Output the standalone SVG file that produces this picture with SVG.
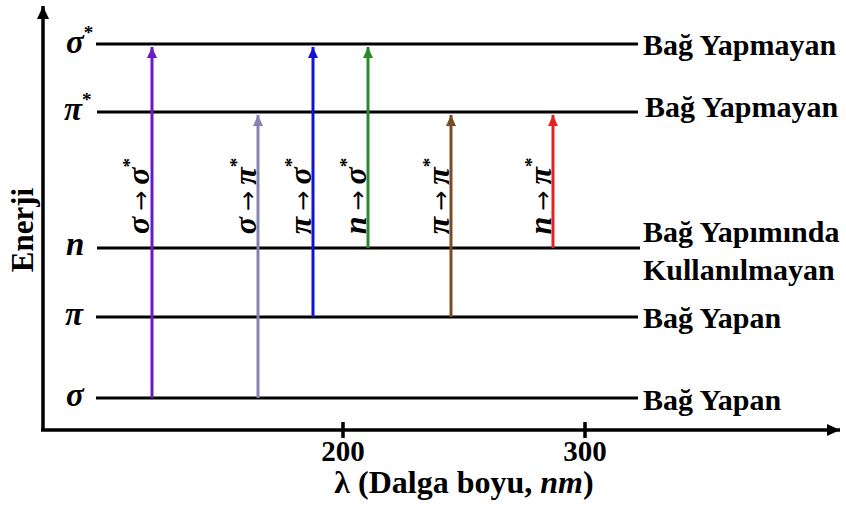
<svg xmlns="http://www.w3.org/2000/svg" width="846" height="510" viewBox="0 0 846 510">
<style>
.lvl{stroke:#000;stroke-width:3;fill:none}
.ax{stroke:#000;stroke-width:3.5;fill:none}
.t{font-family:'Liberation Serif','DejaVu Serif',serif;font-weight:700;fill:#000}
.lab{font-size:30px}
.g{font-style:italic;font-size:33px}
.tr{font-size:32px}
.gi{font-style:italic}
.ar{font-family:'DejaVu Sans',sans-serif;font-weight:400;font-style:normal;font-size:24px}
.sup{font-size:19px;font-style:normal}
.arr{stroke-width:3;fill:none}
</style>
<defs>
<marker id="axh" markerUnits="userSpaceOnUse" markerWidth="14" markerHeight="12" refX="13" refY="6" orient="auto"><path d="M0,0 L13,6 L0,12 z" fill="#000"/></marker>
<marker id="hPur" markerUnits="userSpaceOnUse" markerWidth="11" markerHeight="10" refX="11" refY="5" orient="auto"><path d="M0,0 L11,5 L0,10 z" fill="#6a1bc4"/></marker>
<marker id="hGry" markerUnits="userSpaceOnUse" markerWidth="11" markerHeight="10" refX="11" refY="5" orient="auto"><path d="M0,0 L11,5 L0,10 z" fill="#8583b4"/></marker>
<marker id="hBlu" markerUnits="userSpaceOnUse" markerWidth="11" markerHeight="10" refX="11" refY="5" orient="auto"><path d="M0,0 L11,5 L0,10 z" fill="#1414d0"/></marker>
<marker id="hGrn" markerUnits="userSpaceOnUse" markerWidth="11" markerHeight="10" refX="11" refY="5" orient="auto"><path d="M0,0 L11,5 L0,10 z" fill="#2b8a2b"/></marker>
<marker id="hBrn" markerUnits="userSpaceOnUse" markerWidth="11" markerHeight="10" refX="11" refY="5" orient="auto"><path d="M0,0 L11,5 L0,10 z" fill="#7a4c24"/></marker>
<marker id="hRed" markerUnits="userSpaceOnUse" markerWidth="11" markerHeight="10" refX="11" refY="5" orient="auto"><path d="M0,0 L11,5 L0,10 z" fill="#e42222"/></marker>
</defs>
<rect width="846" height="510" fill="#fff"/>

<g id="axes">
<line class="ax" x1="43" y1="431" x2="43" y2="6" marker-end="url(#axh)"/>
<line class="ax" x1="41" y1="430" x2="840" y2="430" marker-end="url(#axh)"/>
<line class="ax" x1="343" y1="422" x2="343" y2="438"/>
<line class="ax" x1="585" y1="422" x2="585" y2="438"/>
<text class="t" x="343" y="461" font-size="29" text-anchor="middle">200</text>
<text class="t" x="585" y="461" font-size="29" text-anchor="middle">300</text>
<text class="t" x="464" y="493" font-size="32" text-anchor="middle">λ (Dalga boyu, <tspan font-style="italic">nm</tspan>)</text>
<text class="t" transform="translate(33,230) rotate(-90)" font-size="31" text-anchor="middle">Enerji</text>
</g>

<g id="level-sigma-star">
<line class="lvl" x1="96" y1="44" x2="638" y2="44"/>
<text class="t g" x="66" y="53">σ<tspan class="sup" dy="-14">*</tspan></text>
<text class="t lab" x="643" y="55">Bağ Yapmayan</text>
</g>
<g id="level-pi-star">
<line class="lvl" x1="97" y1="112" x2="638" y2="112"/>
<text class="t g" x="64" y="120">π<tspan class="sup" dy="-14">*</tspan></text>
<text class="t lab" x="645" y="117">Bağ Yapmayan</text>
</g>
<g id="level-n">
<line class="lvl" x1="97" y1="248" x2="640" y2="248"/>
<text class="t g" x="66" y="255">n</text>
<text class="t lab" x="643" y="242">Bağ Yapımında</text>
<text class="t lab" x="643" y="280">Kullanılmayan</text>
</g>
<g id="level-pi">
<line class="lvl" x1="96" y1="317" x2="638" y2="317"/>
<text class="t g" x="65" y="325">π</text>
<text class="t lab" x="643" y="328">Bağ Yapan</text>
</g>
<g id="level-sigma">
<line class="lvl" x1="96" y1="398" x2="638" y2="398"/>
<text class="t g" x="66" y="406">σ</text>
<text class="t lab" x="643" y="410">Bağ Yapan</text>
</g>

<g id="connectors">
<line class="arr" stroke="#6a1bc4" x1="152" y1="398" x2="152" y2="47" marker-end="url(#hPur)"/>
<line class="arr" stroke="#8583b4" x1="258" y1="398" x2="258" y2="115" marker-end="url(#hGry)"/>
<line class="arr" stroke="#1414d0" x1="313" y1="317" x2="313" y2="47" marker-end="url(#hBlu)"/>
<line class="arr" stroke="#2b8a2b" x1="368" y1="248" x2="368" y2="47" marker-end="url(#hGrn)"/>
<line class="arr" stroke="#7a4c24" x1="451" y1="317" x2="451" y2="115" marker-end="url(#hBrn)"/>
<line class="arr" stroke="#e42222" x1="553" y1="248" x2="553" y2="115" marker-end="url(#hRed)"/>
</g>

<g id="transition-labels">
<text class="t tr" transform="translate(149,196) rotate(-90)" text-anchor="middle"><tspan class="gi">σ</tspan><tspan class="ar" dx="6">→</tspan><tspan class="gi" dx="6">σ</tspan><tspan class="sup" dy="-13">*</tspan></text>
<text class="t tr" transform="translate(256,196) rotate(-90)" text-anchor="middle"><tspan class="gi">σ</tspan><tspan class="ar" dx="6">→</tspan><tspan class="gi" dx="6">π</tspan><tspan class="sup" dy="-13">*</tspan></text>
<text class="t tr" transform="translate(311,196) rotate(-90)" text-anchor="middle"><tspan class="gi">π</tspan><tspan class="ar" dx="6">→</tspan><tspan class="gi" dx="6">σ</tspan><tspan class="sup" dy="-13">*</tspan></text>
<text class="t tr" transform="translate(366,196) rotate(-90)" text-anchor="middle"><tspan class="gi">n</tspan><tspan class="ar" dx="6">→</tspan><tspan class="gi" dx="6">σ</tspan><tspan class="sup" dy="-13">*</tspan></text>
<text class="t tr" transform="translate(449,196) rotate(-90)" text-anchor="middle"><tspan class="gi">π</tspan><tspan class="ar" dx="6">→</tspan><tspan class="gi" dx="6">π</tspan><tspan class="sup" dy="-13">*</tspan></text>
<text class="t tr" transform="translate(551,196) rotate(-90)" text-anchor="middle"><tspan class="gi">n</tspan><tspan class="ar" dx="6">→</tspan><tspan class="gi" dx="6">π</tspan><tspan class="sup" dy="-13">*</tspan></text>
</g>
</svg>
